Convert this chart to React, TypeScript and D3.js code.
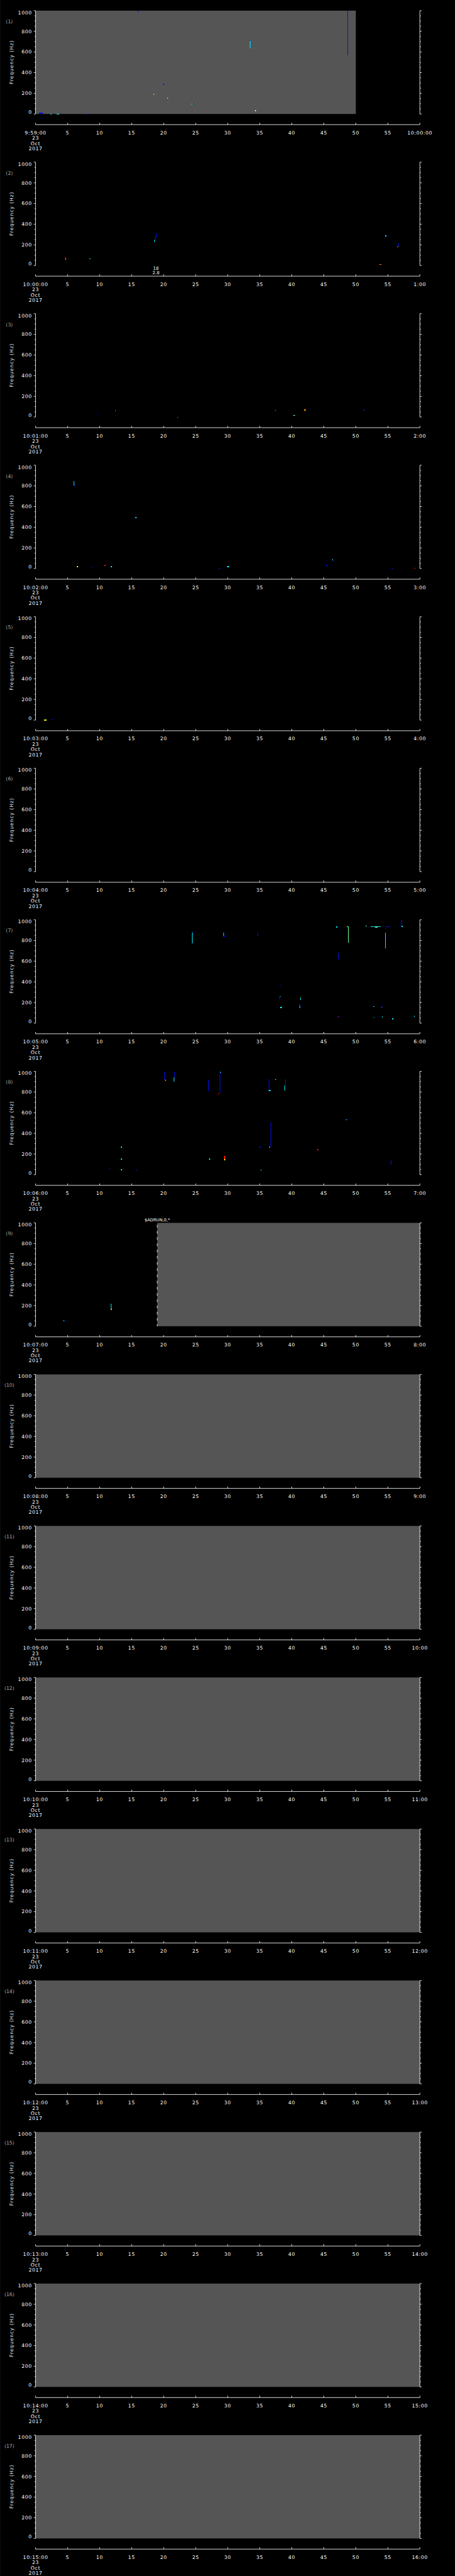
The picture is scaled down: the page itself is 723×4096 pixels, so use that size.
import React, { useEffect, useRef } from 'react';
import * as d3 from 'd3';

// x-axis labels, one panel per minute
const startLabels = ['9:59:00', '10:00:00', '10:01:00', '10:02:00', '10:03:00', '10:04:00', '10:05:00', '10:06:00', '10:07:00', '10:08:00', '10:09:00', '10:10:00', '10:11:00', '10:12:00', '10:13:00', '10:14:00', '10:15:00'];
const endLabels = ['10:00:00', '1:00', '2:00', '3:00', '4:00', '5:00', '6:00', '7:00', '8:00', '9:00', '10:00', '11:00', '12:00', '13:00', '14:00', '15:00', '16:00'];
const midTickLabels = ['5', '10', '15', '20', '25', '30', '35', '40', '45', '50', '55'];
const dateLines = ['23', 'Oct', '2017'];

const freqTicks = [0, 200, 400, 600, 800, 1000];
const freqMinor = [50, 100, 150, 250, 300, 350, 450, 500, 550, 650, 700, 750, 850, 900, 950];

// [panel, t0 (s), t1 (s)] areas with no data (gray)
const noData = [
  [0, 0, 50], [8, 19, 60], [9, 0, 60], [10, 0, 60], [11, 0, 60], [12, 0, 60],
  [13, 0, 60], [14, 0, 60], [15, 0, 60], [16, 0, 60],
];
const dashedEdges = [[8, 19]];

// [panel, t (s), lines]
const notes: [number, number, string[]][] = [
  [1, 18.8, ['18', '2.8']],
];
const topNotes: [number, number, string][] = [[8, 19, '$ADRUN,0,*']];

const palette = {
  B: '#0010f0', L: '#0080ff', C: '#00e8ff', G: '#70ff90', Y: '#f0f000', O: '#ff8c00', R: '#ff1000',
};

// [panel, t0, t1, f0, f1, colour]
const spots: [number, number, number, number, number, string][] = [
  [0, 16.0, 16.1, 990, 1000, 'B'], [0, 48.65, 48.75, 570, 1000, 'B'], [0, 33.5, 33.6, 637, 708, 'C'],
  [0, 33.5, 33.6, 705, 716, 'B'], [0, 19.9, 20.1, 287, 291, 'B'], [0, 18.4, 18.5, 190, 194, 'Y'],
  [0, 20.6, 20.7, 150, 162, 'Y'], [0, 20.6, 20.7, 83, 97, 'R'], [0, 24.3, 24.55, 93, 100, 'C'],
  [0, 24.6, 24.7, 97, 102, 'B'], [0, 34.2, 34.4, 34, 38, 'G'], [0, 0.5, 1.1, 8, 12, 'B'],
  [0, 2.3, 2.5, 0, 3, 'C'], [0, 3.3, 3.7, 0, 3, 'C'], [0, 7.7, 8.0, 0, 3, 'B'],

  [1, 18.55, 18.65, 224, 250, 'C'], [1, 18.7, 18.8, 245, 280, 'B'], [1, 18.8, 18.9, 275, 309, 'B'],
  [1, 4.6, 4.7, 66, 78, 'R'], [1, 4.7, 4.8, 62, 66, 'Y'], [1, 8.4, 8.6, 66, 70, 'C'],
  [1, 54.6, 54.8, 287, 292, 'C'], [1, 54.75, 54.85, 280, 288, 'B'], [1, 56.4, 56.6, 181, 186, 'O'],
  [1, 56.6, 56.7, 183, 211, 'B'], [1, 53.7, 53.95, 11, 15, 'O'],

  [2, 9.45, 9.6, 35, 39, 'B'], [2, 12.4, 12.55, 57, 69, 'L'], [2, 22.15, 22.3, 0, 3, 'C'],
  [2, 37.35, 37.45, 60, 70, 'C'], [2, 37.45, 37.55, 55, 62, 'B'], [2, 40.2, 40.5, 17, 21, 'G'],
  [2, 41.95, 42.15, 67, 71, 'O'], [2, 51.15, 51.3, 67, 71, 'B'],

  [3, 5.95, 6.05, 805, 845, 'C'], [3, 6.05, 6.15, 795, 810, 'B'], [3, 15.6, 15.8, 493, 498, 'C'],
  [3, 6.4, 6.6, 16, 22, 'Y'], [3, 8.7, 8.9, 15, 19, 'B'], [3, 10.8, 11.0, 32, 36, 'R'],
  [3, 11.7, 11.9, 18, 22, 'C'], [3, 28.5, 28.8, 0, 3, 'B'], [3, 29.9, 30.2, 18, 22, 'C'],
  [3, 45.3, 45.55, 30, 36, 'B'], [3, 46.35, 46.45, 80, 93, 'C'], [3, 46.45, 46.55, 68, 80, 'B'],
  [3, 55.6, 55.85, 0, 3, 'B'], [3, 59.1, 59.3, 5, 9, 'R'],

  [4, 1.3, 1.75, 0, 3, 'Y'], [4, 2.5, 2.75, 4, 8, 'B'],

  [6, 24.4, 24.5, 774, 878, 'C'], [6, 24.5, 24.65, 875, 880, 'B'], [6, 29.3, 29.4, 845, 878, 'C'],
  [6, 29.35, 29.5, 838, 845, 'B'], [6, 34.6, 34.7, 842, 878, 'B'], [6, 46.9, 47.1, 931, 935, 'C'],
  [6, 48.8, 48.9, 780, 935, 'G'], [6, 48.6, 48.8, 933, 937, 'G'], [6, 48.95, 49.05, 771, 790, 'B'],
  [6, 51.55, 51.7, 940, 945, 'G'], [6, 52.3, 53.9, 933, 937, 'C'], [6, 53.0, 53.4, 930, 935, 'G'],
  [6, 54.6, 54.7, 721, 878, 'C'], [6, 54.6, 54.7, 912, 937, 'B'], [6, 54.8, 55.4, 933, 937, 'B'],
  [6, 54.75, 54.85, 820, 830, 'B'], [6, 57.0, 57.1, 935, 997, 'B'], [6, 57.1, 57.35, 937, 942, 'C'],
  [6, 47.2, 47.3, 616, 678, 'B'], [6, 38.25, 38.4, 358, 368, 'B'], [6, 38.1, 38.2, 233, 262, 'B'],
  [6, 38.2, 38.3, 255, 262, 'C'], [6, 38.2, 38.5, 150, 155, 'C'], [6, 41.3, 41.4, 226, 248, 'C'],
  [6, 41.2, 41.3, 148, 186, 'C'], [6, 41.25, 41.35, 170, 186, 'B'], [6, 47.3, 47.4, 54, 69, 'B'],
  [6, 47.2, 47.3, 62, 68, 'R'], [6, 52.75, 52.95, 160, 165, 'C'], [6, 54.1, 54.2, 155, 172, 'B'],
  [6, 53.95, 54.05, 148, 158, 'R'], [6, 52.8, 52.95, 57, 61, 'C'], [6, 54.05, 54.2, 60, 64, 'C'],
  [6, 55.85, 55.95, 33, 47, 'B'], [6, 55.7, 55.85, 42, 46, 'C'], [6, 59.05, 59.2, 67, 71, 'C'],

  [7, 20.1, 20.2, 918, 997, 'B'], [7, 20.15, 20.35, 913, 920, 'Y'], [7, 21.6, 21.7, 897, 945, 'C'],
  [7, 21.7, 21.8, 945, 997, 'B'], [7, 26.95, 27.05, 811, 917, 'B'], [7, 28.75, 28.85, 789, 997, 'B'],
  [7, 28.8, 28.9, 990, 997, 'C'], [7, 28.55, 28.65, 775, 790, 'R'], [7, 36.4, 36.5, 815, 927, 'B'],
  [7, 36.45, 36.65, 811, 822, 'C'], [7, 37.4, 37.6, 917, 927, 'C'], [7, 38.85, 38.95, 817, 862, 'C'],
  [7, 38.95, 39.05, 862, 924, 'B'], [7, 36.65, 36.75, 269, 510, 'B'], [7, 36.5, 36.6, 266, 272, 'Y'],
  [7, 34.9, 35.1, 264, 272, 'B'], [7, 48.35, 48.7, 531, 535, 'L'], [7, 44.0, 44.2, 238, 246, 'R'],
  [7, 55.5, 55.6, 97, 137, 'B'], [7, 13.3, 13.5, 267, 272, 'C'], [7, 13.3, 13.5, 150, 155, 'C'],
  [7, 13.3, 13.55, 47, 52, 'C'], [7, 11.5, 11.6, 52, 66, 'B'], [7, 15.7, 15.9, 46, 49, 'B'],
  [7, 27.1, 27.25, 150, 155, 'C'], [7, 29.45, 29.6, 147, 181, 'R'], [7, 29.45, 29.6, 145, 150, 'Y'],
  [7, 35.15, 35.3, 45, 49, 'C'],

  [8, 4.35, 4.5, 48, 57, 'C'], [8, 4.45, 4.55, 44, 50, 'B'], [8, 11.7, 11.8, 167, 217, 'C'],
  [8, 11.75, 11.9, 158, 167, 'Y'], [8, 11.85, 11.95, 155, 160, 'B'],
];

const W = 1024;
const H = 5802;
const PANEL_H = H / 17;
const PLOT_L = 80;
const PLOT_R = 945;
const PLOT_T = 24;
const PLOT_B = 256.7;
const XAXIS_Y = 280.7;
const FONT = '"DejaVu Sans", sans-serif';

const App = () => {
  const svgRef = useRef<SVGSVGElement>(null);

  useEffect(() => {
    const svg = d3.select(svgRef.current);
    svg.selectAll('*').remove();

    svg.append('rect').attr('width', W).attr('height', H).attr('fill', '#000');

    const x = d3.scaleLinear().domain([0, 60]).range([PLOT_L, PLOT_R]);
    const y = d3.scaleLinear().domain([0, 1000]).range([PLOT_B, PLOT_T]);
    const secTicks = d3.range(0, 61, 5);

    startLabels.forEach((start, i) => {
      const g = svg.append('g').attr('transform', `translate(0,${i * PANEL_H})`);

      // gray no-data areas
      noData.filter(d => d[0] === i).forEach(([, t0, t1]) => {
        g.append('rect')
          .attr('x', x(t0)).attr('y', PLOT_T)
          .attr('width', x(t1) - x(t0)).attr('height', PLOT_B - PLOT_T)
          .attr('fill', '#555555');
      });
      dashedEdges.filter(d => d[0] === i).forEach(([, t]) => {
        g.append('line')
          .attr('x1', x(t)).attr('x2', x(t))
          .attr('y1', PLOT_T).attr('y2', PLOT_B)
          .attr('stroke', '#fff').attr('stroke-width', 1.2)
          .attr('stroke-dasharray', '6 8').attr('stroke-dashoffset', 9.7);
      });

      // spectrogram spots
      g.selectAll('rect.spot')
        .data(spots.filter(s => s[0] === i))
        .join('rect')
        .attr('class', 'spot')
        .attr('x', d => x(d[1]))
        .attr('width', d => Math.max(x(d[2]) - x(d[1]), 1.4))
        .attr('y', d => y(d[4]))
        .attr('height', d => Math.max(y(d[3]) - y(d[4]), 2.2))
        .attr('fill', d => palette[d[5]])
        .attr('shape-rendering', 'crispEdges');

      const axisColor = '#fff';
      // left and right axes
      [PLOT_L, PLOT_R].forEach((ax, side) => {
        const dir = side === 0 ? -1 : 1;
        g.append('line')
          .attr('x1', ax).attr('x2', ax).attr('y1', PLOT_T).attr('y2', PLOT_B)
          .attr('stroke', axisColor).attr('stroke-width', 1.2);
        freqTicks.forEach(f => {
          g.append('line')
            .attr('x1', ax).attr('x2', ax + dir * 4)
            .attr('y1', y(f)).attr('y2', y(f))
            .attr('stroke', axisColor).attr('stroke-width', 1.2);
        });
        freqMinor.forEach(f => {
          g.append('line')
            .attr('x1', ax).attr('x2', ax + dir * 2.5)
            .attr('y1', y(f)).attr('y2', y(f))
            .attr('stroke', axisColor).attr('stroke-width', 1.1);
        });
      });

      // y tick labels
      freqTicks.forEach(f => {
        let base = y(f) + 4;
        if (f === 1000) base = y(f) + 8.2;
        if (f === 0) base = y(f);
        g.append('text')
          .attr('x', 72).attr('y', base)
          .attr('text-anchor', 'end')
          .attr('fill', '#fff')
          .style('font-family', FONT).style('font-size', '11px')
          .style('letter-spacing', '0.9px')
          .text(f);
      });

      // panel number and y title
      g.append('text')
        .attr('x', 21).attr('y', 52)
        .attr('text-anchor', 'middle')
        .attr('fill', '#a8a8a8')
        .style('font-family', FONT).style('font-size', '11px')
        .text(`(${i + 1})`);
      g.append('text')
        .attr('transform', `translate(29,140) rotate(-90)`)
        .attr('text-anchor', 'middle')
        .attr('fill', '#e8e8e8')
        .style('font-family', FONT).style('font-size', '11px')
        .style('letter-spacing', '1.2px')
        .text('Frequency (Hz)');

      // x axis
      g.append('line')
        .attr('x1', PLOT_L).attr('x2', PLOT_R).attr('y1', XAXIS_Y).attr('y2', XAXIS_Y)
        .attr('stroke', axisColor).attr('stroke-width', 1.2);
      const labels = [start, ...midTickLabels, endLabels[i]];
      secTicks.forEach((s, k) => {
        g.append('line')
          .attr('x1', x(s)).attr('x2', x(s))
          .attr('y1', XAXIS_Y).attr('y2', XAXIS_Y - 4)
          .attr('stroke', axisColor).attr('stroke-width', 1.2);
        g.append('text')
          .attr('x', x(s)).attr('y', 302.7)
          .attr('text-anchor', 'middle')
          .attr('fill', '#fff')
          .style('font-family', FONT).style('font-size', '11px')
          .style('letter-spacing', '0.9px')
          .text(labels[k]);
      });
      dateLines.forEach((t, k) => {
        g.append('text')
          .attr('x', x(0)).attr('y', 315 + k * 11.7)
          .attr('text-anchor', 'middle')
          .attr('fill', '#fff')
          .style('font-family', FONT).style('font-size', '11px')
          .style('letter-spacing', '0.9px')
          .text(t);
      });

      // annotations
      notes.filter(n => n[0] === i).forEach(([, t, lines]) => {
        lines.forEach((l, k) => {
          g.append('text')
            .attr('x', x(t)).attr('y', 267 + k * 9)
            .attr('text-anchor', 'middle')
            .attr('fill', '#fff')
            .style('font-family', FONT).style('font-size', '10px')
            .text(l);
        });
      });
      topNotes.filter(n => n[0] === i).forEach(([, t, label]) => {
        g.append('text')
          .attr('x', x(t)).attr('y', 20)
          .attr('text-anchor', 'middle')
          .attr('fill', '#fff')
          .style('font-family', FONT).style('font-size', '9.5px')
          .text(label);
      });
    });
  }, []);

  return (
    <svg
      ref={svgRef}
      width={723}
      height={4096}
      viewBox={`0 0 ${W} ${H}`}
      style={{ position: 'absolute', left: 0, top: 0, display: 'block' }}
    />
  );
};

export default App;
